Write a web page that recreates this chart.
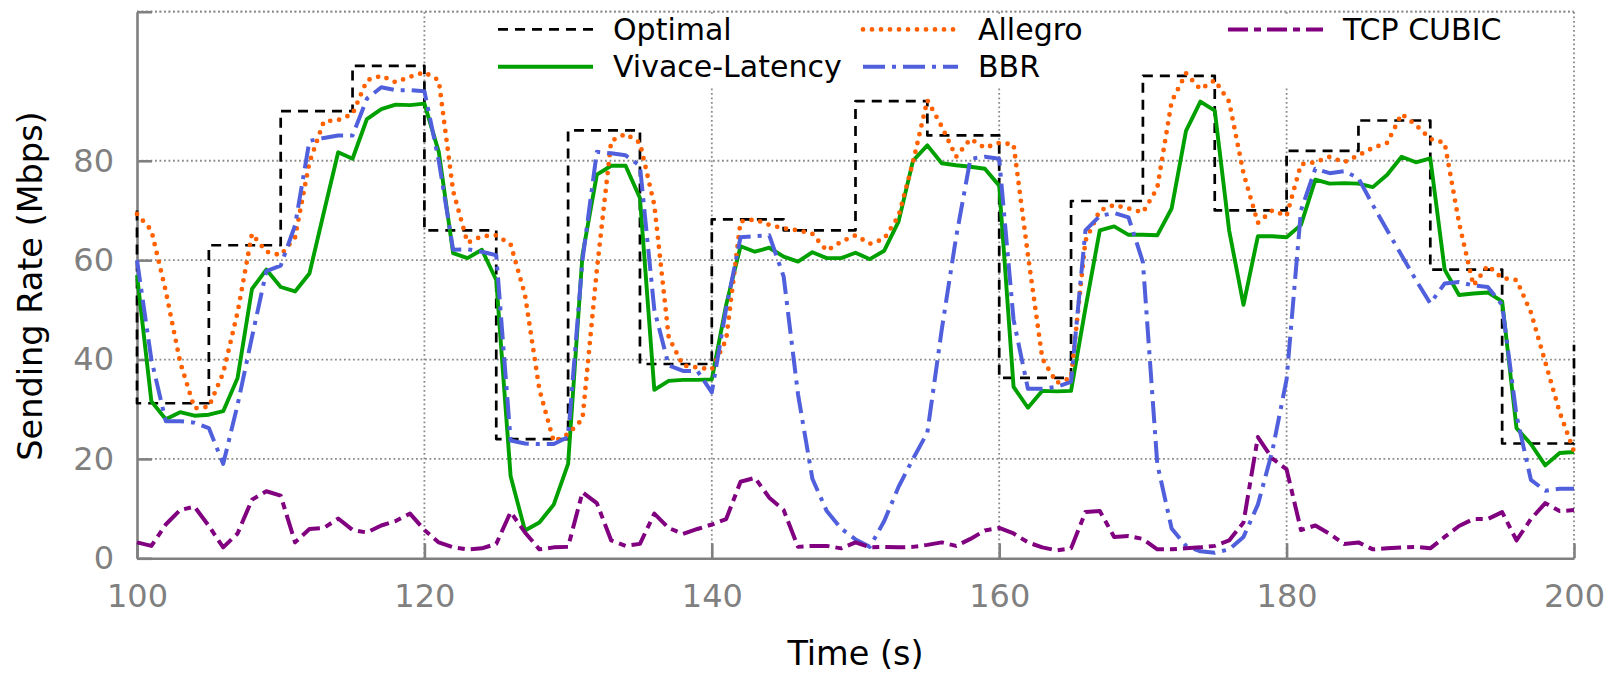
<!DOCTYPE html>
<html>
<head>
<meta charset="utf-8">
<script src="https://cdn.jsdelivr.net/npm/d3@7"></script>
<style>
  body { margin: 0; background: #fff; }
  svg { display: block; font-family: 'DejaVu Sans', sans-serif; }
</style>
</head>
<body>
<div id="mainGraph"></div>
<script>
// data (one sample per second, 100 s .. 200 s)
// -----------------------------------------------
const seconds = d3.range(100, 201);

const vivace = [57, 31.6, 28.0, 29.4, 28.7, 28.9, 29.6, 36.3, 54.2, 58.1,
  54.6, 53.7, 57.3, 69.6, 81.7, 80.4, 88.4, 90.4, 91.3, 91.2,
  91.5, 81.8, 61.4, 60.4, 62.1, 56.0, 16.5, 5.6, 7.2, 10.8,
  19.0, 61.0, 77.2, 79.0, 79.0, 72.5, 33.9, 35.7, 35.9, 35.9,
  36.0, 51.0, 62.8, 61.7, 62.5, 60.7, 59.7, 61.6, 60.4, 60.4,
  61.5, 60.2, 61.9, 67.8, 80.0, 83.1, 79.5, 79.1, 78.8, 78.4,
  75.0, 34.5, 30.3, 33.7, 33.6, 33.7, 50.3, 66.0, 66.8, 65.1,
  65.1, 65.0, 70.4, 86.0, 91.9, 90.1, 66.0, 51.0, 64.8, 64.8,
  64.6, 67.1, 76.2, 75.4, 75.5, 75.4, 74.7, 77.2, 80.8, 79.7,
  80.5, 58.1, 53.0, 53.3, 53.5, 51.7, 26.2, 23.0, 18.7, 21.2,
  21.4];

const allegro = [69.3, 66.0, 53.8, 39.5, 30.2, 30.5, 37.3, 49.5, 65.3, 61.7,
  61.0, 64.6, 79.7, 87.9, 88.2, 89.4, 96.2, 97.1, 95.8, 96.9,
  97.8, 96.2, 73.9, 63.5, 64.8, 65.0, 63.2, 53.0, 34.0, 23.5,
  25.0, 28.0, 58.0, 84.0, 85.4, 83.6, 71.1, 44.5, 38.8, 38.4,
  38.0, 44.0, 67.8, 68.2, 67.1, 66.4, 66.0, 65.3, 61.9, 63.7,
  65.0, 63.3, 64.3, 68.9, 79.7, 92.2, 86.9, 80.8, 84.4, 82.6,
  83.6, 83.3, 61.0, 40.2, 35.3, 36.3, 63.9, 70.0, 71.1, 70.4,
  69.6, 74.5, 91.9, 97.6, 94.4, 96.2, 91.9, 77.5, 67.5, 70.0,
  68.9, 79.3, 79.7, 80.8, 79.7, 81.1, 82.6, 83.6, 89.4, 87.2,
  84.4, 83.6, 67.5, 54.9, 58.9, 56.4, 56.0, 49.5, 39.5, 29.4,
  21.5];

const bbr = [60.0, 40.0, 27.6, 27.6, 27.3, 26.2, 19.0, 30.9, 44.5, 57.8,
  58.9, 67.0, 84.0, 84.6, 85.1, 85.1, 92.5, 94.8, 94.2, 94.2,
  94.0, 80.0, 62.1, 62.2, 61.7, 61.0, 23.7, 23.1, 23.0, 23.0,
  24.4, 60.0, 81.8, 81.5, 81.1, 79.0, 50.0, 38.8, 37.7, 37.7,
  33.4, 50.3, 64.6, 64.8, 65.0, 56.7, 33.0, 16.0, 9.5, 6.0,
  3.8, 2.3, 7.5, 14.4, 20.0, 25.3, 46.0, 64.6, 80.4, 80.8,
  80.4, 48.0, 34.1, 34.1, 34.5, 35.5, 66.0, 68.9, 69.5, 68.6,
  59.6, 19.0, 6.0, 2.5, 1.4, 1.1, 1.8, 4.3, 10.8, 21.5,
  36.0, 70.0, 78.4, 77.5, 77.9, 76.5, 71.1, 66.0, 61.0, 56.0,
  51.3, 55.3, 55.6, 54.9, 54.6, 51.0, 28.7, 15.8, 13.6, 14.0,
  14.0];

const cubic = [3.2, 2.5, 6.8, 9.7, 10.4, 6.5, 2.2, 5.0, 11.8, 13.5,
  12.6, 3.2, 5.9, 6.1, 8.0, 5.7, 5.2, 6.6, 7.5, 9.0,
  5.7, 3.2, 2.2, 1.8, 2.0, 2.9, 9.3, 5.2, 1.8, 2.2,
  2.3, 13.3, 11.1, 3.6, 2.5, 2.9, 9.0, 6.1, 4.9, 5.9,
  6.8, 7.9, 15.4, 16.2, 12.2, 9.7, 2.3, 2.5, 2.5, 2.0,
  3.2, 2.2, 2.3, 2.2, 2.3, 2.7, 3.2, 2.5, 3.9, 5.6,
  6.1, 5.0, 3.2, 2.2, 1.6, 2.0, 9.3, 9.5, 4.3, 4.5,
  3.9, 1.8, 1.8, 2.0, 2.2, 2.5, 3.6, 7.2, 24.4, 20.1,
  17.9, 5.7, 6.6, 4.9, 2.9, 3.2, 1.8, 2.0, 2.2, 2.3,
  2.0, 4.3, 6.5, 7.9, 7.9, 9.3, 3.6, 7.9, 11.1, 9.5,
  9.7];

// optimal rate is a step function, one level per 5 s block
const optimalTimes = [100, 100, 105, 110, 115, 120, 125, 130, 135, 140, 145,
  150, 155, 160, 165, 170, 175, 180, 185, 190, 195, 200];
const optimalRates = [70, 31.2, 63.0, 90.0, 99.1, 66.0, 24.0, 86.1, 39.1, 68.2, 66.0,
  92.0, 85.1, 36.3, 71.9, 97.1, 70.0, 82.0, 88.1, 58.1, 23.1, 43];

const xTicks = [100, 120, 140, 160, 180, 200];
const yTicks = [0, 20, 40, 60, 80, 110];
const yLabels = [0, 20, 40, 60, 80];

// -----------------------------------------------
let margin = { top: 11.7, right: 48, bottom: 115.7, left: 137 },
  width = 1622,
  height = 674;

let gridColor = '#8a8a8a',
  axisColor = '#808080';

const series = [
  { name: 'Optimal', color: '#000000', w: 2.7, dash: '10 7', cap: 'butt', col: 0, row: 0 },
  { name: 'Vivace-Latency', color: '#00a000', w: 3.9, dash: null, cap: 'butt', col: 0, row: 1 },
  { name: 'Allegro', color: '#ff6000', w: 4.8, dash: '0 9', cap: 'round', col: 1, row: 0 },
  { name: 'BBR', color: '#5060dc', w: 4, dash: '22 7 4 7', cap: 'butt', col: 1, row: 1 },
  { name: 'TCP CUBIC', color: '#800080', w: 4, dash: '20 6 7 6', cap: 'butt', col: 2, row: 0 },
];
series[0].points = d3.zip(optimalTimes, optimalRates);
series[1].points = d3.zip(seconds, vivace);
series[2].points = d3.zip(seconds, allegro);
series[3].points = d3.zip(seconds, bbr);
series[4].points = d3.zip(seconds, cubic);

// -----------------------------------------------
const x = d3
  .scaleLinear()
  .domain([100, 200])
  .range([margin.left, width - margin.right]);
const y = d3
  .scaleLinear()
  .domain([0, 110])
  .range([height - margin.bottom, margin.top]);

const svg = d3
  .select('#mainGraph')
  .append('svg')
  .attr('width', width)
  .attr('height', height)
  .attr('viewBox', [0, 0, width, height]);

// dotted grid (also the top and right border)
const grid = svg
  .append('g')
  .attr('stroke', gridColor)
  .attr('stroke-width', 1.8)
  .attr('stroke-dasharray', '1.8 2.7');

grid
  .selectAll('.hgrid')
  .data(yTicks.filter((d) => d > 0))
  .join('line')
  .attr('class', 'hgrid')
  .attr('x1', x(100))
  .attr('x2', x(200))
  .attr('y1', (d) => y(d))
  .attr('y2', (d) => y(d));

grid
  .selectAll('.vgrid')
  .data(xTicks.filter((d) => d > 100))
  .join('line')
  .attr('class', 'vgrid')
  .attr('x1', (d) => x(d))
  .attr('x2', (d) => x(d))
  .attr('y1', y(0))
  .attr('y2', y(110));

// key box is opaque: hides the grid behind it, the curves go on top
svg
  .append('rect')
  .attr('x', 470)
  .attr('y', 14)
  .attr('width', 1060)
  .attr('height', 72)
  .attr('fill', '#ffffff');

// top border dots above the key box
svg
  .append('line')
  .attr('x1', x(100))
  .attr('x2', x(200))
  .attr('y1', y(110))
  .attr('y2', y(110))
  .attr('stroke', gridColor)
  .attr('stroke-width', 1.8)
  .attr('stroke-dasharray', '1.8 2.7');

// -----------------------------------------------
// axes
let yAxis = (g) => {
  g.attr('transform', `translate(${margin.left},0)`)
    .call(
      d3
        .axisLeft(y)
        .tickValues(yTicks)
        .tickFormat((d) => (yLabels.includes(d) ? d : ''))
        .tickSizeInner(-15)
        .tickSizeOuter(0)
        .tickPadding(23)
    )
    .call((g) => g.selectAll('line, path').attr('stroke-width', 2.6));
};

let xAxis = (g) => {
  g.attr('transform', `translate(0,${height - margin.bottom})`)
    .call(
      d3
        .axisBottom(x)
        .tickValues(xTicks)
        .tickSizeInner(-15)
        .tickSizeOuter(0)
    )
    .call((g) => g.selectAll('line, path').attr('stroke-width', 2.6))
    .call((g) => g.selectAll('text').attr('y', 49).attr('dy', null));
};

svg
  .append('g')
  .call(yAxis)
  .attr('color', axisColor)
  .attr('font-size', 32)
  .attr('font-family', 'DejaVu Sans');
svg
  .append('g')
  .call(xAxis)
  .attr('color', axisColor)
  .attr('font-size', 32)
  .attr('font-family', 'DejaVu Sans');

// -----------------------------------------------
// curves (optimal drawn as steps)
let lineFor = (i) => {
  const l = d3
    .line()
    .x((p) => x(p[0]))
    .y((p) => y(p[1]));
  return i === 0 ? l.curve(d3.curveStepAfter) : l;
};

svg
  .append('g')
  .selectAll('path')
  .data(series)
  .join('path')
  .attr('fill', 'none')
  .attr('stroke', (d) => d.color)
  .attr('stroke-width', (d) => d.w)
  .attr('stroke-dasharray', (d) => d.dash)
  .attr('stroke-linecap', (d) => d.cap)
  .attr('stroke-linejoin', 'round')
  .attr('d', (d, i) => lineFor(i)(d.points));

// -----------------------------------------------
// key
const colX = [498, 863, 1228],
  rowY = [29.4, 66.7],
  sampleLen = 95;

const key = svg
  .append('g')
  .selectAll('g')
  .data(series)
  .join('g')
  .attr('transform', (d) => `translate(${colX[d.col]},${rowY[d.row]})`);

key
  .append('line')
  .attr('x1', 0)
  .attr('x2', sampleLen)
  .attr('stroke', (d) => d.color)
  .attr('stroke-width', (d) => d.w)
  .attr('stroke-dasharray', (d) => d.dash)
  .attr('stroke-linecap', (d) => d.cap);

key
  .append('text')
  .attr('x', 115)
  .attr('y', 10.2)
  .attr('font-size', 30)
  .attr('fill', '#000')
  .text((d) => d.name);

// -----------------------------------------------
// axis titles
svg
  .append('text')
  .attr('transform', `translate(42,286) rotate(-90)`)
  .attr('text-anchor', 'middle')
  .attr('font-size', 33.5)
  .text('Sending Rate (Mbps)');

svg
  .append('text')
  .attr('x', (x(100) + x(200)) / 2)
  .attr('y', 665)
  .attr('text-anchor', 'middle')
  .attr('font-size', 33.5)
  .text('Time (s)');
</script>
</body>
</html>
